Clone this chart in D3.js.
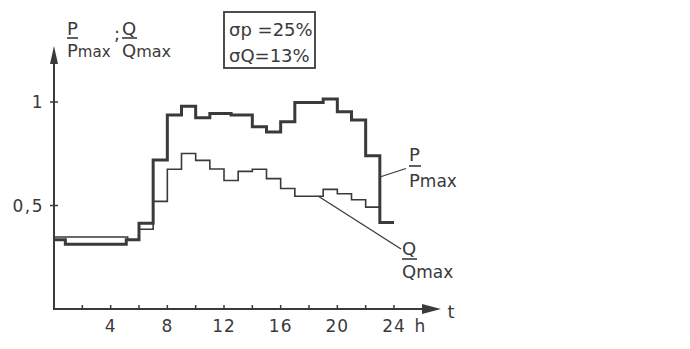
<!DOCTYPE html>
<html><head><meta charset="utf-8">
<script src="https://cdn.jsdelivr.net/npm/d3@7"></script>
<style>
body{margin:0;background:#fff;}
text{font-family:"DejaVu Sans",sans-serif;fill:#3a3a3a;}
</style></head>
<body><svg id="c" width="690" height="349"></svg>
<script>
// P/Pmax step breakpoints (hour of step start, value)
const pTimes  = [0, 0.8, 5.1, 6, 7, 8, 9, 10, 11, 12.5, 14, 15, 16, 17, 19, 20, 21, 22, 23];
const pValues = [0.335, 0.313, 0.335, 0.414, 0.72, 0.937, 0.98, 0.924, 0.945, 0.937, 0.88, 0.855, 0.905, 0.997, 1.015, 0.953, 0.913, 0.74, 0.418];
const pEnd = 24;
// Q/Qmax step breakpoints
const qTimes  = [0, 5.2, 6, 7, 8, 9, 10, 11, 12, 13, 14, 15, 16, 17, 19, 20, 21, 22];
const qValues = [0.348, 0.333, 0.385, 0.52, 0.675, 0.751, 0.718, 0.676, 0.621, 0.665, 0.675, 0.63, 0.582, 0.545, 0.578, 0.557, 0.528, 0.492];
const qEnd = 23;
// axis ticks
const xTicks = [2,4,6,8,10,12,14,16,18,20,22,24];
const xTickLabels = [4,8,12,16,20,24];
const yTicks = [0.5, 1];
const yTickLabels = ["0,5", "1"];

const svg = d3.select("#c");
const col = "#3a3a3a";
const x = d3.scaleLinear().domain([0,24]).range([54,394]);
const y = d3.scaleLinear().domain([0,1]).range([309,102]);

// axes
svg.append("line").attr("x1",x(0)).attr("y1",y(0)+1).attr("x2",x(0)).attr("y2",60)
  .attr("stroke",col).attr("stroke-width",2);
svg.append("path").attr("d",`M${x(0)},46 L${x(0)-4},64 L${x(0)+4},64 Z`).attr("fill",col);
svg.append("line").attr("x1",x(0)-1).attr("y1",y(0)).attr("x2",426).attr("y2",y(0))
  .attr("stroke",col).attr("stroke-width",2);
svg.append("path").attr("d",`M441,${y(0)} L422,${y(0)-5} L422,${y(0)+5} Z`).attr("fill",col);

svg.selectAll(".xt").data(xTicks).join("line")
  .attr("x1",d=>x(d)).attr("x2",d=>x(d)).attr("y1",y(0)).attr("y2",y(0)-4)
  .attr("stroke",col).attr("stroke-width",1.5);
svg.selectAll(".xl").data(xTickLabels).join("text")
  .attr("x",d=>x(d)).attr("y",332).attr("text-anchor","middle")
  .attr("font-size",17).attr("letter-spacing",1).text(d=>d);
svg.append("text").attr("x",420).attr("y",332).attr("text-anchor","middle").attr("font-size",17).text("h");
svg.append("text").attr("x",451).attr("y",318).attr("text-anchor","middle").attr("font-size",18).text("t");

svg.selectAll(".yt").data(yTicks).join("line")
  .attr("x1",x(0)-4).attr("x2",x(0)+4).attr("y1",d=>y(d)).attr("y2",d=>y(d))
  .attr("stroke",col).attr("stroke-width",1.5);
svg.selectAll(".yl").data(yTicks).join("text")
  .attr("x",44).attr("y",d=>y(d)+6).attr("text-anchor","end")
  .attr("font-size",17).attr("letter-spacing",1.5).text((d,i)=>yTickLabels[i]);

// step lines
function stepData(ts, vs, end){
  const pts = ts.map((t,i)=>[t, vs[i]]);
  pts.push([end, vs[vs.length-1]]);
  return pts;
}
const line = d3.line().x(d=>x(d[0])).y(d=>y(d[1])).curve(d3.curveStepAfter);
svg.append("path").attr("d",line(stepData(qTimes,qValues,qEnd)))
  .attr("fill","none").attr("stroke",col).attr("stroke-width",1.6);
svg.append("path").attr("d",line(stepData(pTimes,pValues,pEnd)))
  .attr("fill","none").attr("stroke",col).attr("stroke-width",3);

// fraction label helper
function frac(x0, yNum, yBar, yDen, letter, barW, maxSize){
  svg.append("text").attr("x",x0).attr("y",yNum).attr("font-size",18).text(letter);
  svg.append("line").attr("x1",x0).attr("x2",x0+barW).attr("y1",yBar).attr("y2",yBar)
    .attr("stroke",col).attr("stroke-width",1.6);
  const t = svg.append("text").attr("x",x0).attr("y",yDen).attr("font-size",18);
  t.append("tspan").text(letter);
  t.append("tspan").attr("font-size",maxSize).text("max");
}
// right labels with leader lines
svg.append("line").attr("x1",x(23)).attr("y1",177).attr("x2",406).attr("y2",168.5)
  .attr("stroke",col).attr("stroke-width",1.3);
frac(409, 161, 166, 187, "P", 12, 17);
svg.append("line").attr("x1",318).attr("y1",196).attr("x2",401).attr("y2",249)
  .attr("stroke",col).attr("stroke-width",1.3);
frac(402, 255, 259, 278, "Q", 15, 17);

// y axis label
frac(67, 35, 38, 57, "P", 11, 15);
svg.append("text").attr("x",114).attr("y",40).attr("font-size",18).text(";");
frac(122, 35, 38, 57, "Q", 15, 16);

// sigma box
svg.append("rect").attr("x",224).attr("y",12).attr("width",91).attr("height",56)
  .attr("fill","none").attr("stroke",col).attr("stroke-width",1.8);
svg.append("text").attr("x",229).attr("y",36).attr("font-size",18).text("σp =25%");
svg.append("text").attr("x",229).attr("y",62).attr("font-size",18).text("σQ=13%");
</script></body></html>
